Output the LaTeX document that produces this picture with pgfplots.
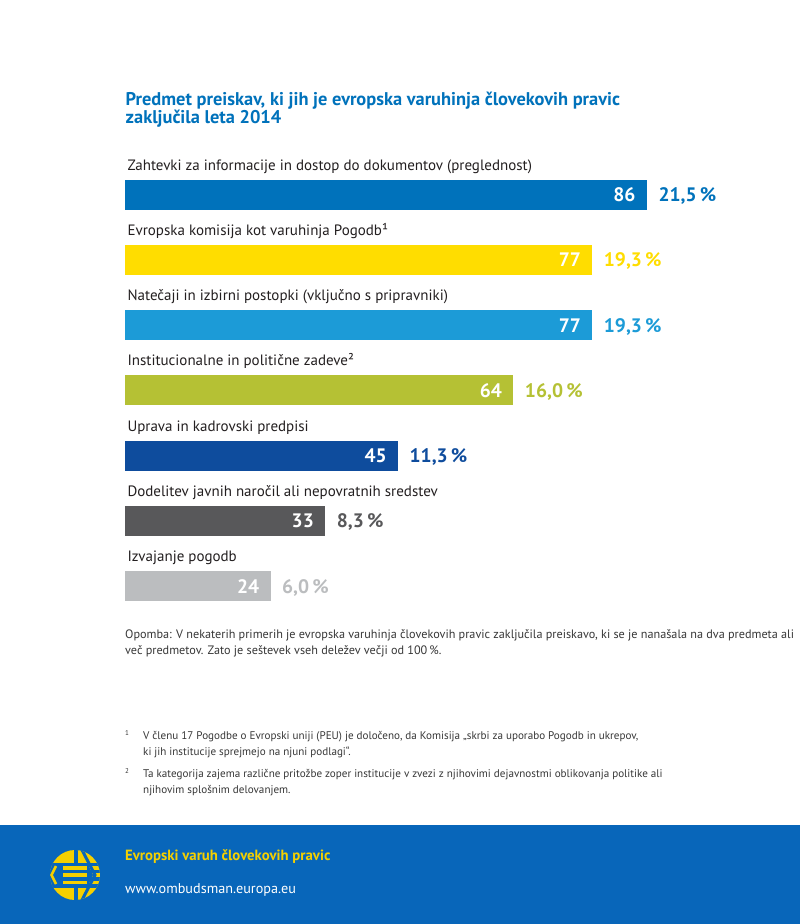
\documentclass[border=0pt]{standalone}
\usepackage{pgfplots}
\pgfplotsset{compat=1.18}
\usepackage{fontspec}
\setmainfont{PT Sans}

\definecolor{cA}{RGB}{0,114,187}
\definecolor{cB}{RGB}{255,221,0}
\definecolor{cC}{RGB}{28,155,215}
\definecolor{cD}{RGB}{181,193,52}
\definecolor{cE}{RGB}{14,76,157}
\definecolor{cF}{RGB}{88,88,90}
\definecolor{cG}{RGB}{187,189,191}
\definecolor{titleblue}{RGB}{0,114,187}
\definecolor{txt}{RGB}{35,31,32}
\definecolor{notegray}{RGB}{55,55,55}
\definecolor{footblue}{RGB}{8,102,186}
\definecolor{footyellow}{RGB}{245,208,0}

% one bar: fill colour, percentage text
\pgfplotsset{
  ombar/.style 2 args={
    xbar, fill=#1, draw=none, bar width=30pt, bar shift=0pt,
    point meta=x,
    nodes near coords={\llap{\textcolor{white}{\pgfmathprintnumber{\pgfplotspointmeta}}\hspace{11.7pt}}\hspace{11.3pt}\textcolor{#1}{#2}},
    nodes near coords style={anchor=base west, inner sep=0pt, yshift=-6.9pt,
      font=\bfseries\fontsize{19.5}{19.5}\selectfont},
  },
}

\begin{document}
\begin{tikzpicture}
\path[use as bounding box] (0,0) rectangle (800pt,-924pt);
\fill[white] (0,0) rectangle (800pt,-924pt);

% title
\node[anchor=base west, inner sep=0pt, text=titleblue, font=\bfseries\fontsize{18.4}{18.4}\selectfont]
  at (125.5pt,-105.7pt) {Predmet preiskav, ki jih je evropska varuhinja človekovih pravic};
\node[anchor=base west, inner sep=0pt, text=titleblue, font=\bfseries\fontsize{18.4}{18.4}\selectfont]
  at (125.5pt,-123pt) {zaključila leta 2014};

\begin{axis}[
  at={(125pt,-161.85pt)}, anchor=north west,
  scale only axis, width=667.7pt, height=457.1pt,
  xmin=0, xmax=110, ymin=0.5, ymax=7.5,
  y dir=reverse,
  hide axis, clip=false,
  /pgf/number format/assume math mode=true,
  every node/.append style={inner sep=0pt},
]
  \addplot[ombar={cA}{21,5\,\%}] coordinates {(86,1)};
  \addplot[ombar={cB}{19,3\,\%}] coordinates {(77,2)};
  \addplot[ombar={cC}{19,3\,\%}] coordinates {(77,3)};
  \addplot[ombar={cD}{16,0\,\%}] coordinates {(64,4)};
  \addplot[ombar={cE}{11,3\,\%}] coordinates {(45,5)};
  \addplot[ombar={cF}{8,3\,\%}] coordinates {(33,6)};
  \addplot[ombar={cG}{6,0\,\%}] coordinates {(24,7)};

  % category labels above the bars
  \tikzset{catlbl/.style={anchor=base west, text=txt, xshift=-1pt, yshift=24.5pt, font=\fontsize{15}{15}\selectfont}}
  \node[catlbl] at (axis cs:0,1) {Zahtevki za informacije in dostop do dokumentov (preglednost)};
  \node[catlbl] at (axis cs:0,2) {Evropska komisija kot varuhinja Pogodb¹};
  \node[catlbl] at (axis cs:0,3) {Natečaji in izbirni postopki (vključno s pripravniki)};
  \node[catlbl] at (axis cs:0,4) {Institucionalne in politične zadeve²};
  \node[catlbl] at (axis cs:0,5) {Uprava in kadrovski predpisi};
  \node[catlbl] at (axis cs:0,6) {Dodelitev javnih naročil ali nepovratnih sredstev};
  \node[catlbl] at (axis cs:0,7) {Izvajanje pogodb};
\end{axis}

% note
\tikzset{note/.style={anchor=base west, inner sep=0pt, text=notegray, font=\fontsize{12.2}{12.2}\selectfont}}
\node[note] at (125pt,-638.5pt) {Opomba: V nekaterih primerih je evropska varuhinja človekovih pravic zaključila preiskavo, ki se je nanašala na dva predmeta ali};
\node[note] at (125pt,-654.5pt) {več predmetov. Zato je seštevek vseh deležev večji od 100\,\%.};

% footnotes
\tikzset{fn/.style={anchor=base west, inner sep=0pt, text=notegray, font=\fontsize{11.1}{11.1}\selectfont}}
\node[fn] at (125pt,-735pt) {\fontsize{7}{7}\selectfont 1};
\node[fn] at (143pt,-739pt) {V členu 17 Pogodbe o Evropski uniji (PEU) je določeno, da Komisija „skrbi za uporabo Pogodb in ukrepov,};
\node[fn] at (143pt,-755.5pt) {ki jih institucije sprejmejo na njuni podlagi“.};
\node[fn] at (125pt,-773pt) {\fontsize{7}{7}\selectfont 2};
\node[fn] at (143pt,-777pt) {Ta kategorija zajema različne pritožbe zoper institucije v zvezi z njihovimi dejavnostmi oblikovanja politike ali};
\node[fn] at (143pt,-793.5pt) {njihovim splošnim delovanjem.};

% footer band
\fill[footblue] (0,-825pt) rectangle (800pt,-924pt);
\node[anchor=base west, inner sep=0pt, text=footyellow, font=\bfseries\fontsize{14.8}{14.8}\selectfont]
  at (125pt,-860pt) {Evropski varuh človekovih pravic};
\node[anchor=base west, inner sep=0pt, text=white, font=\fontsize{14.2}{14.2}\selectfont]
  at (125pt,-893.5pt) {www.ombudsman.europa.eu};

% logo
\begin{scope}
  \clip (75pt,-875pt) circle (25pt);
  \fill[footyellow] (50pt,-850pt) rectangle (100pt,-900pt);
  \fill[footblue] (45pt,-862.5pt) rectangle (105pt,-866pt);
  \fill[footblue] (45pt,-869.5pt) rectangle (105pt,-873pt);
  \fill[footblue] (45pt,-877pt) rectangle (105pt,-880.5pt);
  \fill[footblue] (45pt,-884pt) rectangle (105pt,-887.5pt);
  \fill[footblue] (45pt,-862.5pt) rectangle (62.5pt,-887.5pt);
  \fill[footblue] (74pt,-845pt) rectangle (77.5pt,-862.5pt);
  \fill[footblue] (74pt,-887.5pt) rectangle (77.5pt,-905pt);
  \draw[footblue, line width=3pt] (81pt,-848pt) -- (95pt,-875pt) -- (81pt,-902pt);
  \fill[footblue] (87pt,-862.5pt) -- (93pt,-875pt) -- (87pt,-887.5pt) -- cycle;
  \draw[footyellow, line width=2.6pt] (56pt,-866pt) -- (51.5pt,-875pt) -- (56pt,-884pt);
\end{scope}
\end{tikzpicture}
\end{document}
